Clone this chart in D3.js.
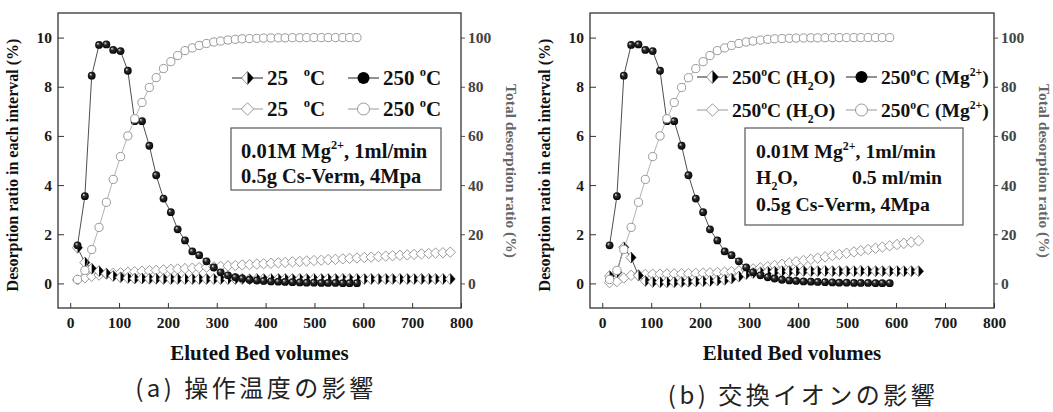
<!DOCTYPE html>
<html>
<head>
<meta charset="utf-8">
<script src="https://cdn.jsdelivr.net/npm/d3@7"></script>
<style>
body { margin: 0; background: #fff; }
svg text { font-family: "Liberation Serif", "Times New Roman", serif; font-weight: bold; white-space: pre; }
</style>
</head>
<body>
<svg id="chart" width="1053" height="412"></svg>
<script>
// ---- data ----
// eluted bed volumes of each fraction
var bv25 = [15, 30, 44, 59, 74, 88, 103, 118, 132, 147, 162, 176, 191, 206, 220, 235, 250, 264, 279, 294,
            308, 323, 338, 352, 367, 382, 396, 411, 426, 440, 455, 470, 484, 499, 514, 528, 543, 558, 572, 587,
            602, 616, 631, 646, 660, 675, 690, 704, 719, 734, 748, 763, 778];
var bv250 = [15, 30, 44, 59, 74, 88, 103, 118, 132, 147, 162, 176, 191, 206, 220, 235, 250, 264, 279, 294,
             308, 323, 338, 352, 367, 382, 396, 411, 426, 440, 455, 470, 484, 499, 514, 528, 543, 558, 572, 587];
var bvH2O = [15, 30, 44, 59, 74, 88, 103, 118, 132, 147, 162, 176, 191, 206, 220, 235, 250, 264, 279, 294,
             308, 323, 338, 352, 367, 382, 396, 411, 426, 440, 455, 470, 484, 499, 514, 528, 543, 558, 572, 587,
             602, 616, 631, 646];

// desorption ratio in each interval (%)
var int25 = [1.45, 0.85, 0.6, 0.5, 0.4, 0.3, 0.25, 0.22, 0.2, 0.2, 0.19, 0.19, 0.18, 0.18, 0.18, 0.18, 0.18, 0.18, 0.18, 0.18,
             0.18, 0.18, 0.18, 0.18, 0.17, 0.18, 0.18, 0.18, 0.18, 0.18, 0.18, 0.18, 0.18, 0.18, 0.18, 0.18, 0.18, 0.18, 0.18, 0.18,
             0.18, 0.18, 0.18, 0.18, 0.18, 0.18, 0.18, 0.18, 0.18, 0.18, 0.18, 0.18, 0.18];
var int250 = [1.55, 3.55, 8.45, 9.7, 9.72, 9.5, 9.45, 8.65, 6.6, 6.6, 5.6, 4.4, 3.45, 2.9, 2.2, 1.75, 1.3, 1.15, 0.9, 0.65,
              0.45, 0.33, 0.25, 0.2, 0.15, 0.12, 0.1, 0.08, 0.07, 0.06, 0.05, 0.04, 0.03, 0.03, 0.02, 0.02, 0.02, 0.01, 0.01, 0.01];
var intH2O = [0.3, 0.45, 1.47, 1.05, 0.32, 0.1, 0.06, 0.05, 0.05, 0.05, 0.06, 0.07, 0.08, 0.09, 0.1, 0.12, 0.15, 0.2, 0.28, 0.38,
              0.42, 0.45, 0.47, 0.48, 0.5, 0.5, 0.5, 0.51, 0.5, 0.5, 0.51, 0.5, 0.5, 0.5, 0.5, 0.51, 0.5, 0.5, 0.5, 0.5,
              0.5, 0.5, 0.5, 0.5];

// total desorption ratio (%)
var tot25 = [1.45, 2.3, 2.9, 3.4, 3.8, 4.1, 4.35, 4.55, 4.75, 4.95, 5.15, 5.3, 5.5, 5.7, 5.85, 6.05, 6.2, 6.4, 6.6, 6.75,
             6.95, 7.1, 7.3, 7.5, 7.65, 7.85, 8.0, 8.2, 8.4, 8.55, 8.75, 8.9, 9.1, 9.3, 9.45, 9.65, 9.8, 10.0, 10.2, 10.35,
             10.55, 10.7, 10.9, 11.1, 11.25, 11.45, 11.6, 11.8, 12.0, 12.15, 12.35, 12.5, 12.7];
var tot250 = [1.6, 5.3, 13.8, 22.8, 33.0, 42.3, 51.6, 60.0, 67.0, 73.6, 79.7, 83.7, 87.4, 90.2, 92.7, 94.7, 95.8, 96.8, 97.6, 98.2,
              98.6, 99.0, 99.3, 99.5, 99.6, 99.7, 99.8, 99.85, 99.9, 99.9, 99.95, 99.95, 100, 100, 100, 100, 100, 100, 100, 100];
var totH2O = [0.3, 0.75, 2.2, 3.3, 3.6, 3.7, 3.75, 3.8, 3.85, 3.9, 3.95, 4.0, 4.1, 4.2, 4.3, 4.45, 4.6, 4.8, 5.1, 5.5,
              5.9, 6.35, 6.8, 7.3, 7.8, 8.3, 8.8, 9.3, 9.8, 10.3, 10.8, 11.3, 11.8, 12.3, 12.8, 13.3, 13.8, 14.3, 14.8, 15.3,
              15.8, 16.3, 16.8, 17.3];

var xTicks = [0, 100, 200, 300, 400, 500, 600, 700, 800];
var yLeftTicks = [0, 2, 4, 6, 8, 10];
var yRightTicks = [0, 20, 40, 60, 80, 100];
var xTitle = "Eluted Bed volumes";
var yLeftTitle = "Desorption ratio in each interval (%)";
var yRightTitle = "Total desorption ratio (%)";
var captions = ["(a) 操作温度の影響", "(b) 交換イオンの影響"];

var svg = d3.select("#chart");

// shaded black ball
var grad = svg.append("defs").append("radialGradient")
    .attr("id", "ball").attr("cx", "50%").attr("cy", "50%").attr("r", "55%")
    .attr("fx", "32%").attr("fy", "30%");
grad.append("stop").attr("offset", "0%").attr("stop-color", "#e6e6e6");
grad.append("stop").attr("offset", "38%").attr("stop-color", "#2a2a2a");
grad.append("stop").attr("offset", "100%").attr("stop-color", "#000");

function drawMarker(sel, type, x, y, big) {
    var k = big ? 1.2 : 1;
    if (type == "half") {
        var w = 5 * k, h = 5.5 * k;
        sel.append("path")
            .attr("d", "M" + (x - w) + "," + y + "L" + x + "," + (y - h) + "L" + (x + w) + "," + y + "L" + x + "," + (y + h) + "Z")
            .attr("fill", "#fff").attr("stroke", "#777").attr("stroke-width", 0.8);
        sel.append("path")
            .attr("d", "M" + x + "," + (y - h) + "L" + (x + w) + "," + y + "L" + x + "," + (y + h) + "Z")
            .attr("fill", "#000");
    } else if (type == "diamond") {
        var w2 = 5.2 * k, h2 = 5.2 * k;
        sel.append("path")
            .attr("d", "M" + (x - w2) + "," + y + "L" + x + "," + (y - h2) + "L" + (x + w2) + "," + y + "L" + x + "," + (y + h2) + "Z")
            .attr("fill", "#fff").attr("stroke", "#9a9a9a").attr("stroke-width", 1);
    } else if (type == "ball") {
        sel.append("circle").attr("cx", x).attr("cy", y).attr("r", big ? 6 : 3.9)
            .attr("fill", big ? "#000" : "url(#ball)");
    } else {
        sel.append("circle").attr("cx", x).attr("cy", y).attr("r", big ? 6 : 4.1)
            .attr("fill", "#fff").attr("stroke", "#999").attr("stroke-width", 1);
    }
}

// text with sup / sub parts
function richText(sel, x, y, parts, size) {
    var t = sel.append("text").attr("x", x).attr("y", y).attr("font-size", size).attr("fill", "#111");
    var shift = 0;
    parts.forEach(function (p) {
        var s = t.append("tspan").text(p.t);
        var want = p.sup ? -0.42 * size : (p.sub ? 0.3 * size : 0);
        if (want != shift) s.attr("dy", want - shift);
        shift = want;
        if (p.sup || p.sub) s.attr("font-size", size * 0.6);
    });
    return t;
}

var deg = [{t: "o", sup: true}, {t: "C"}];

var panels = [
    {
        x0: 58, x1: 461, caption: captions[0], capX: 256, capY: 397,
        legendSize: 21, boxSize: 20.5,
        series: [
            {x: bv25, y: tot25, axis: "R", type: "diamond"},
            {x: bv25, y: int25, axis: "L", type: "half"},
            {x: bv250, y: int250, axis: "L", type: "ball"},
            {x: bv250, y: tot250, axis: "R", type: "ring"}
        ],
        legend: [
            {type: "half", x: 232, y: 78, parts: [{t: "25   "}].concat(deg)},
            {type: "ball", x: 348, y: 78, parts: [{t: "250 "}].concat(deg)},
            {type: "diamond", x: 232, y: 109, parts: [{t: "25   "}].concat(deg)},
            {type: "ring", x: 348, y: 109, parts: [{t: "250 "}].concat(deg)}
        ],
        box: {x: 231, y: 128, w: 210, h: 62},
        boxLines: [
            {x: 241, y: 158, parts: [{t: "0.01M Mg"}, {t: "2+", sup: true}, {t: ", 1ml/min"}]},
            {x: 241, y: 183, parts: [{t: "0.5g Cs-Verm, 4Mpa"}]}
        ]
    },
    {
        x0: 590, x1: 994, caption: captions[1], capX: 803, capY: 404,
        legendSize: 19.5, boxSize: 19.8,
        series: [
            {x: bvH2O, y: totH2O, axis: "R", type: "diamond"},
            {x: bvH2O, y: intH2O, axis: "L", type: "half"},
            {x: bv250, y: int250, axis: "L", type: "ball"},
            {x: bv250, y: tot250, axis: "R", type: "ring"}
        ],
        legend: [
            {type: "half", x: 697, y: 77, parts: [{t: "250"}].concat(deg, [{t: " (H"}, {t: "2", sub: true}, {t: "O)"}])},
            {type: "ball", x: 846, y: 77, parts: [{t: "250"}].concat(deg, [{t: " (Mg"}, {t: "2+", sup: true}, {t: ")"}])},
            {type: "diamond", x: 697, y: 110, parts: [{t: "250"}].concat(deg, [{t: " (H"}, {t: "2", sub: true}, {t: "O)"}])},
            {type: "ring", x: 846, y: 110, parts: [{t: "250"}].concat(deg, [{t: " (Mg"}, {t: "2+", sup: true}, {t: ")"}])}
        ],
        box: {x: 745, y: 128, w: 218, h: 97},
        boxLines: [
            {x: 756, y: 158, parts: [{t: "0.01M Mg"}, {t: "2+", sup: true}, {t: ", 1ml/min"}]},
            {x: 756, y: 184, parts: [{t: "H"}, {t: "2", sub: true}, {t: "O,"}]},
            {x: 852, y: 184, parts: [{t: "0.5 ml/min"}]},
            {x: 756, y: 211, parts: [{t: "0.5g Cs-Verm, 4Mpa"}]}
        ]
    }
];

var plotTop = 13, plotBottom = 308;

panels.forEach(function (p) {
    var g = svg.append("g");
    var x = d3.scaleLinear().domain([-25, 800]).range([p.x0, p.x1]);
    var yL = d3.scaleLinear().domain([-1, 11]).range([plotBottom, plotTop]);
    var yR = d3.scaleLinear().domain([-10, 110]).range([plotBottom, plotTop]);

    // axes
    var ax = g.append("g").attr("transform", "translate(0," + plotBottom + ")")
        .call(d3.axisBottom(x).tickValues(xTicks).tickSize(-5).tickPadding(9));
    var ayl = g.append("g").attr("transform", "translate(" + p.x0 + ",0)")
        .call(d3.axisLeft(yL).tickValues(yLeftTicks).tickSize(-6).tickPadding(6));
    var ayr = g.append("g").attr("transform", "translate(" + p.x1 + ",0)")
        .call(d3.axisRight(yR).tickValues(yRightTicks).tickSize(4).tickPadding(3));
    [ax, ayl, ayr].forEach(function (a) {
        a.select(".domain").remove();
        a.attr("font-family", null).attr("font-size", null);
        a.selectAll("text").attr("font-size", 15.5).attr("fill", "#1a1a1a");
        a.selectAll("line").attr("stroke", "#333");
    });
    ayr.selectAll("text").attr("fill", "#444");
    ayr.selectAll("line").attr("stroke", "#555");

    g.append("rect").attr("x", p.x0).attr("y", plotTop)
        .attr("width", p.x1 - p.x0).attr("height", plotBottom - plotTop)
        .attr("fill", "none").attr("stroke", "#333").attr("stroke-width", 1.3);

    // series: lines then markers
    p.series.forEach(function (s) {
        var yy = s.axis == "L" ? yL : yR;
        var pts = s.x.map(function (v, i) { return [x(v), yy(s.y[i])]; });
        g.append("path").attr("d", d3.line()(pts))
            .attr("fill", "none")
            .attr("stroke", s.axis == "L" ? "#222" : "#a0a0a0")
            .attr("stroke-width", 0.8);
        var mg = g.append("g");
        pts.forEach(function (q) { drawMarker(mg, s.type, q[0], q[1], false); });
    });

    // legend
    p.legend.forEach(function (l) {
        var lg = g.append("g");
        var col = (l.type == "half" || l.type == "ball") ? "#222" : "#999";
        lg.append("line").attr("x1", l.x).attr("x2", l.x + 31).attr("y1", l.y).attr("y2", l.y)
            .attr("stroke", col).attr("stroke-width", 1);
        drawMarker(lg, l.type, l.x + 15.5, l.y, true);
        richText(lg, l.x + 35, l.y + 7, l.parts, p.legendSize);
    });

    // condition box
    g.append("rect").attr("x", p.box.x).attr("y", p.box.y).attr("width", p.box.w).attr("height", p.box.h)
        .attr("fill", "#fff").attr("stroke", "#555").attr("stroke-width", 1.2);
    p.boxLines.forEach(function (b) { richText(g, b.x, b.y, b.parts, p.boxSize); });

    // titles
    g.append("text").attr("x", (p.x0 + p.x1) / 2).attr("y", 360)
        .attr("text-anchor", "middle").attr("font-size", 21).attr("fill", "#111").text(xTitle);
    g.append("text").attr("transform", "translate(" + (p.x0 - 40) + ",165) rotate(-90)")
        .attr("text-anchor", "middle").attr("font-size", 16).attr("fill", "#111").text(yLeftTitle);
    g.append("text").attr("transform", "translate(" + (p.x1 + 45) + ",171) rotate(90)")
        .attr("text-anchor", "middle").attr("font-size", 15.5).attr("fill", "#666").text(yRightTitle);

    g.append("text").attr("x", p.capX).attr("y", p.capY).attr("text-anchor", "middle")
        .style("font-family", "'Noto Sans CJK JP', sans-serif").style("font-weight", "normal")
        .attr("font-size", 24).attr("letter-spacing", 3.5).attr("fill", "#222").text(p.caption);
});
</script>
</body>
</html>
